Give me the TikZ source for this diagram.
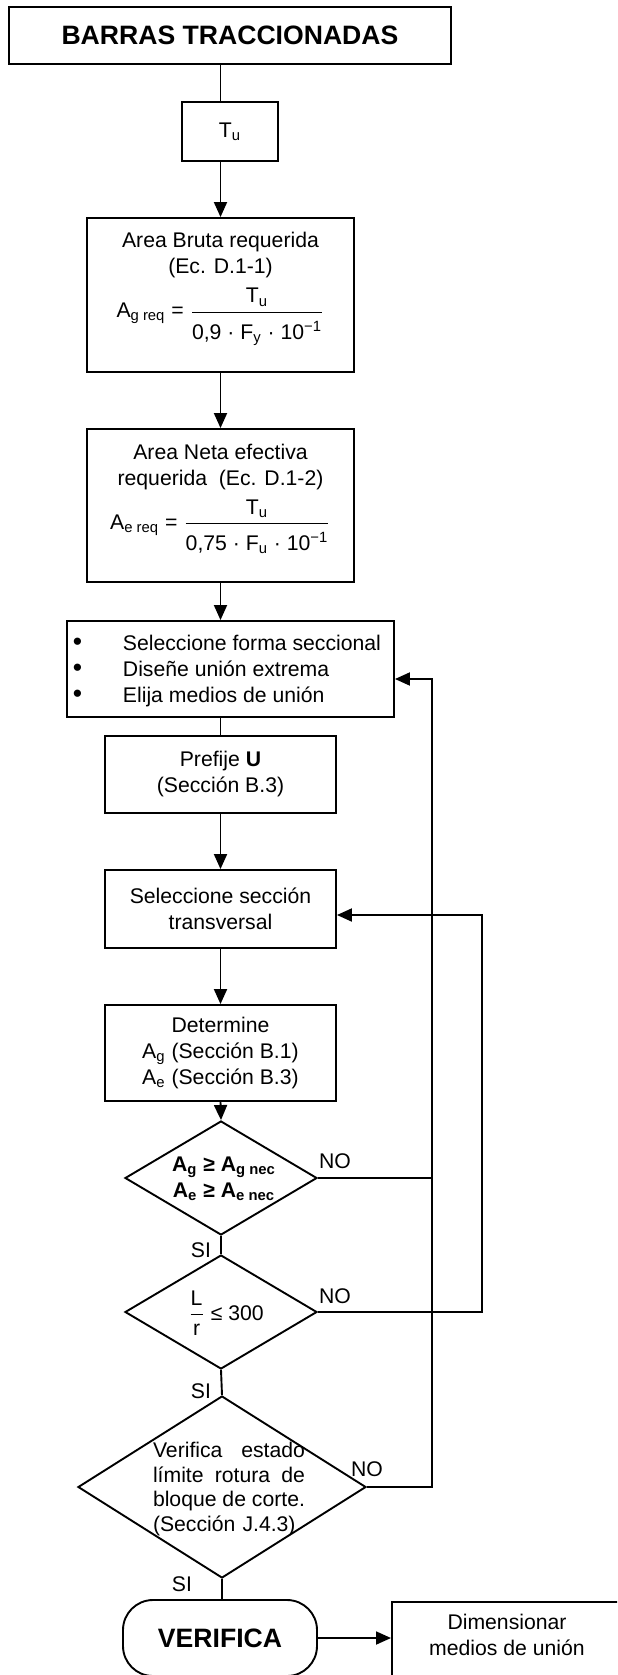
\documentclass[tikz,border=0pt]{standalone}
\usepackage{fontspec}
\usepackage{amsmath}
\usepackage{graphicx}
\setmainfont{Liberation Sans}
\usetikzlibrary{shapes.geometric,arrows.meta,calc}

% list bullet, slightly enlarged
\newcommand{\listdot}{\makebox[24.5pt][l]{\hspace{-0.5pt}\scalebox{1.25}{•}}}

\begin{document}
\begin{tikzpicture}[x=0.5pt,y=-0.5pt,
  font=\fontsize{10.6pt}{13pt}\selectfont,
  line width=0.95pt,
  box/.style={draw, rectangle, inner sep=0pt, align=center},
  dia/.style={draw, diamond, inner sep=0pt},
  arr/.style={-{Triangle[length=7.5pt,width=6.5pt]}},
  lbl/.style={inner sep=0pt},
  bigbold/.style={font=\fontsize{13.3pt}{16pt}\selectfont\bfseries},
]
\useasboundingbox (0,0) rectangle (617,1675);
\clip (0,0) rectangle (617,1675);

% main column of boxes
\node[box, bigbold, minimum width=221pt, minimum height=28.5pt] (title) at (230,35.5) {BARRAS TRACCIONADAS};
\node[box, minimum width=48pt, minimum height=29.5pt] (tu) at (230,131.5) {T\textsubscript{u}};

\node[box, minimum width=133.5pt, minimum height=77pt] (ab) at (220.5,295) {};
\node[lbl, align=center] (abt) at (220.5,289)
  {Area Bruta requerida\\(Ec. D.1-1)\\[4pt]
   A\textsubscript{g req} = $\dfrac{\text{T\textsubscript{u}}}{\text{\rule{0pt}{12pt}0,9 · F\textsubscript{y} · 10\textsuperscript{−1}}}$};

\node[box, minimum width=133.5pt, minimum height=76.5pt] (an) at (220.5,505.5) {};
\node[lbl, align=center] (ant) at (220.5,499)
  {Area Neta efectiva\\requerida\ \ (Ec. D.1-2)\\[4pt]
   A\textsubscript{e req} = $\dfrac{\text{T\textsubscript{u}}}{\text{\rule{0pt}{12pt}0,75 · F\textsubscript{u} · 10\textsuperscript{−1}}}$};

\node[box, minimum width=163.5pt, minimum height=48pt] (bul) at (230.5,669) {};
\node[lbl, anchor=west, align=left] (bult) at (73,671)
  {\listdot Seleccione forma seccional\\
   \listdot Diseñe unión extrema\\
   \listdot Elija medios de unión};
\node[box, minimum width=115.5pt, minimum height=38.5pt] (pre) at (220.5,774.5) {Prefije \textbf{U}\\(Sección B.3)};
\node[box, minimum width=115.5pt, minimum height=39pt] (sel) at (220.5,909) {Seleccione sección\\transversal};
\node[box, minimum width=115.5pt, minimum height=48pt] (det) at (220.5,1053)
  {Determine\\A\textsubscript{g} (Sección B.1)\\A\textsubscript{e} (Sección B.3)};

% decisions
\node[dia, minimum width=96pt, minimum height=57pt] (d1) at (221,1178) {};
\node[lbl, align=center, font=\fontsize{10.6pt}{13pt}\selectfont\bfseries] (d1t) at (224,1179)
  {A\textsubscript{g} ≥ A\textsubscript{g nec}\\A\textsubscript{e} ≥ A\textsubscript{e nec}};
\node[dia, minimum width=96pt, minimum height=57pt] (d2) at (221,1312) {};
\node[lbl] (d2t) at (226,1313) {$\dfrac{\text{L}}{\text{r}}$ ≤ 300};
\node[dia, minimum width=144pt, minimum height=91pt] (d3) at (222,1487) {};
\node[lbl, align=left, text width=76pt, font=\fontsize{10.6pt}{12.3pt}\selectfont] (d3t) at (229,1489)
  {\makebox[76pt][l]{Verifica\hfill estado}\\
   \makebox[76pt][l]{límite\hfill rotura\hfill de}\\
   \makebox[76pt][l]{bloque\hfill de\hfill corte.}\\
   (Sección J.4.3)};

% end
\node[draw, bigbold, rounded corners=15pt, minimum width=97pt, minimum height=38pt, inner sep=0pt] (term) at (220,1638) {VERIFICA};
\node[draw, anchor=north west, minimum width=116pt, minimum height=45pt, inner sep=0pt] (dim) at (391,1601) {};
\node[lbl, align=center] (dimt) at (507,1635) {Dimensionar\\medios de unión};

% branch labels
\node[lbl] (si1) at (201,1250) {SI};
\node[lbl] (si2) at (201,1391) {SI};
\node[lbl] (si3) at (182,1584) {SI};
\node[lbl] (no1) at (335,1161) {NO};
\node[lbl] (no2) at (335,1296) {NO};
\node[lbl] (no3) at (367,1469) {NO};

% return lines
\coordinate (ra) at (432,0);
\coordinate (rb) at (482,0);
\coordinate (bulin) at ($(bul.east)+(0,10)$);
\coordinate (selin) at ($(sel.east)+(0,6)$);

% connectors
\draw (title.south -| ab.north) -- (tu.north -| ab.north);
\draw[arr] (tu.south -| ab.north) -- (ab.north);
\draw[arr] (ab.south) -- (an.north);
\draw[arr] (an.south) -- (bul.north -| an.south);
\draw (bul.south -| pre.north) -- (pre.north);
\draw[arr] (pre.south) -- (sel.north);
\draw[arr] (sel.south) -- (det.north);
\draw[arr] (det.south) -- (d1.north);
\draw (d1.south) -- (d2.north);
\draw (d2.south) -- (d3.north);
\draw (d3.south) -- (term.north -| d3.south);
\draw[arr] (term.east) -- (dim.west |- term.east);

\draw (d1.east) -- (d1.east -| ra);
\draw[arr] (d2.east) -- (d2.east -| rb) -- (rb |- selin) -- (selin);
\draw[arr] (d3.east) -- (d3.east -| ra) -- (ra |- bulin) -- (bulin);
\end{tikzpicture}
\end{document}
